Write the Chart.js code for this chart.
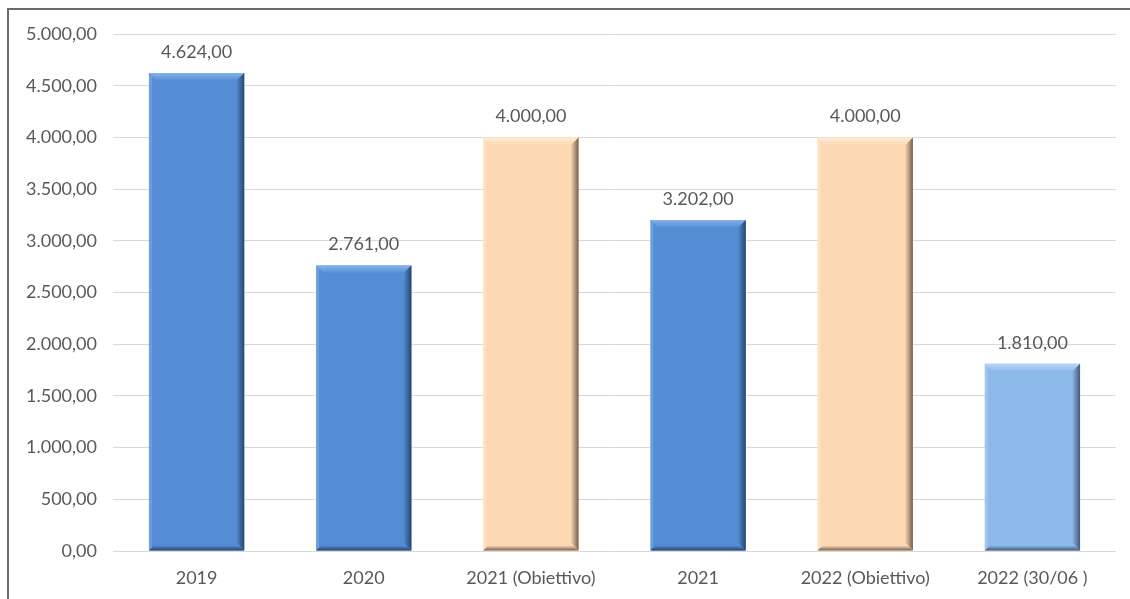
<!DOCTYPE html>
<html>
<head>
<meta charset="utf-8">
<script src="https://cdn.jsdelivr.net/npm/chart.js@4/dist/chart.umd.min.js"></script>
<style>
  html, body { margin: 0; padding: 0; background: #fff; }
  #wrap { position: relative; width: 1130px; height: 599px; }
  #frame { position: absolute; left: 7px; top: 8px; right: 0; bottom: 0;
           border-left: 2px solid #6b6b6b; border-top: 2px solid #6b6b6b; pointer-events: none; }
  canvas { position: absolute; left: 0; top: 0; }
</style>
</head>
<body>
<div id="wrap">
  <canvas id="chart" width="1130" height="599"></canvas>
  <div id="frame"></div>
</div>
<script>
// dati del grafico
const anni = ['2019', '2020', '2021 (Obiettivo)', '2021', '2022 (Obiettivo)', '2022 (30/06 )'];
const valori = [4624, 2761, 4000, 3202, 4000, 1810];
const tickY = [0, 500, 1000, 1500, 2000, 2500, 3000, 3500, 4000, 4500, 5000];

// colori: principale, bordo chiaro (sopra), bordo scuro (destra/sotto)
const coloreBarra = ['#548dd4', '#548dd4', '#fdd9b3', '#548dd4', '#fdd9b3', '#8db8ea'];
const coloreChiaro = ['#86b3ec', '#86b3ec', '#feecd8', '#86b3ec', '#feecd8', '#bad5f5'];
const coloreScuro = ['#27456f', '#27456f', '#76604c', '#27456f', '#76604c', '#435a7a'];

const fontTesto = 'Lato, "Open Sans", sans-serif';

function formatta(v) {
    const parti = v.toFixed(2).split('.');
    const intero = parti[0].replace(/\B(?=(\d{3})+(?!\d))/g, '.');
    return intero + ',' + parti[1];
}

// effetto smussato sulle barre + etichette dei valori
const smussoPlugin = {
    id: 'smusso',
    afterDatasetsDraw(chart) {
        const ctx = chart.ctx;
        const meta = chart.getDatasetMeta(0);
        meta.data.forEach((bar, i) => {
            const l = bar.x - bar.width / 2, r = bar.x + bar.width / 2;
            const t = bar.y, b = bar.base;
            const s = 8;
            ctx.save();
            // lato superiore
            let g = ctx.createLinearGradient(0, t, 0, t + s);
            g.addColorStop(0, coloreChiaro[i]);
            g.addColorStop(1, coloreBarra[i]);
            ctx.fillStyle = g;
            ctx.beginPath();
            ctx.moveTo(l, t); ctx.lineTo(r, t); ctx.lineTo(r - s, t + s); ctx.lineTo(l + s, t + s);
            ctx.closePath(); ctx.fill();
            // lato sinistro
            ctx.fillStyle = coloreChiaro[i];
            ctx.globalAlpha = 0.45;
            ctx.beginPath();
            ctx.moveTo(l, t); ctx.lineTo(l + 3, t + 3); ctx.lineTo(l + 3, b - 3); ctx.lineTo(l, b);
            ctx.closePath(); ctx.fill();
            ctx.globalAlpha = 1;
            // lato destro
            g = ctx.createLinearGradient(r - s, 0, r, 0);
            g.addColorStop(0, coloreBarra[i]);
            g.addColorStop(1, coloreScuro[i]);
            ctx.fillStyle = g;
            ctx.beginPath();
            ctx.moveTo(r, t); ctx.lineTo(r, b); ctx.lineTo(r - s, b - s); ctx.lineTo(r - s, t + s);
            ctx.closePath(); ctx.fill();
            // lato inferiore
            g = ctx.createLinearGradient(0, b - 5, 0, b);
            g.addColorStop(0, coloreBarra[i]);
            g.addColorStop(1, coloreScuro[i]);
            ctx.fillStyle = g;
            ctx.beginPath();
            ctx.moveTo(l, b); ctx.lineTo(r, b); ctx.lineTo(r - 5, b - 5); ctx.lineTo(l + 5, b - 5);
            ctx.closePath(); ctx.fill();
            // etichetta
            ctx.fillStyle = '#595959';
            ctx.font = '18px ' + fontTesto;
            ctx.textAlign = 'center';
            ctx.textBaseline = 'middle';
            ctx.fillText(formatta(valori[i]), bar.x, t - 21);
            ctx.restore();
        });
    }
};

new Chart(document.getElementById('chart'), {
    type: 'bar',
    data: {
        labels: anni,
        datasets: [{
            data: valori,
            backgroundColor: coloreBarra,
            borderWidth: 0,
            categoryPercentage: 1,
            barPercentage: 0.57
        }]
    },
    options: {
        responsive: false,
        animation: false,
        events: [],
        layout: { padding: { top: 34, right: 14, left: 0, bottom: 0 } },
        plugins: { legend: { display: false }, tooltip: { enabled: false } },
        scales: {
            x: {
                grid: { display: false, drawTicks: false },
                border: { display: false },
                ticks: { color: '#595959', font: { family: fontTesto, size: 18 }, padding: 16, maxRotation: 0 },
                afterFit(scale) { scale.height = 48; }
            },
            y: {
                min: 0,
                max: 5000,
                afterBuildTicks(scale) { scale.ticks = tickY.map(v => ({ value: v })); },
                grid: { color: '#d9d9d9', lineWidth: 1, drawTicks: false },
                border: { display: false },
                ticks: {
                    color: '#595959',
                    font: { family: fontTesto, size: 18 },
                    padding: 16,
                    callback: v => formatta(v)
                },
                afterFit(scale) { scale.width = 113; }
            }
        }
    },
    plugins: [smussoPlugin]
});
</script>
</body>
</html>
